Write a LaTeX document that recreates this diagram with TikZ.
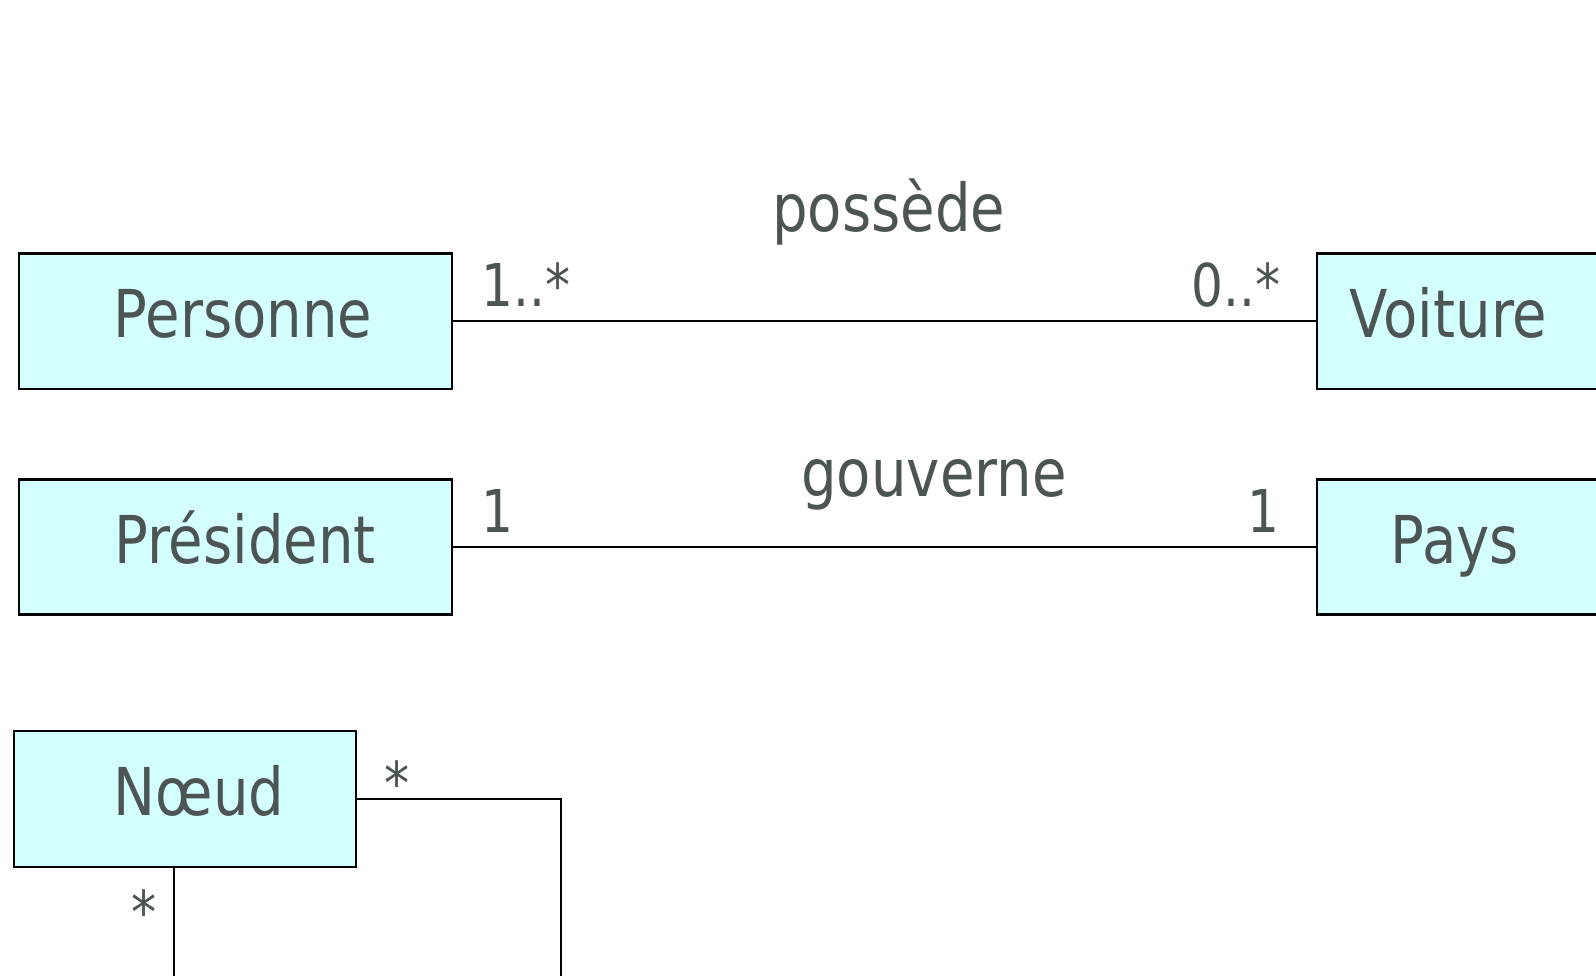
\documentclass[tikz,border=0pt]{standalone}
\usepackage{fontspec}
\setmainfont{DejaVu Sans}[FakeStretch=0.85]
\definecolor{txt}{HTML}{4D5454}
\definecolor{boxfill}{HTML}{D4FFFF}
\begin{document}
\begin{tikzpicture}[x=1pt,y=-1pt,
  classbox/.style={draw=black,fill=boxfill,line width=2.4pt,inner sep=0pt,
    minimum height=135pt,text=txt,font=\fontsize{66}{70}\selectfont,
    text height=44pt,text depth=12pt},
  conn/.style={draw=black,line width=2.2pt},
  mult/.style={text=txt,font=\fontsize{59}{62}\selectfont,inner sep=0pt},
  assoc/.style={text=txt,font=\fontsize{66}{70}\selectfont,inner sep=0pt,anchor=base}]
\useasboundingbox (0,0) rectangle (1596,976);
\clip (0,0) rectangle (1596,976);
% classes
\node[classbox,minimum width=433pt] (pers) at (235.6,321.2) {\hspace*{15pt}Personne};
\node[classbox,minimum width=284pt] (voit) at (1459,321.2) {Voiture\hspace*{21pt}};
\node[classbox,minimum width=433pt] (pres) at (235.6,547.1) {\hspace*{19pt}Président};
\node[classbox,minimum width=284pt] (pays) at (1459,547.1) {Pays\hspace*{8pt}};
\node[classbox,minimum width=342pt,minimum height=136pt] (noeud) at (185.2,799) {\hspace*{28pt}Nœud};
% associations
\draw[conn] (pers.east) -- (voit.west);
\draw[conn] (pres.east) -- (pays.west);
\coordinate (cr) at (561,990);
\coordinate (cb) at (174,990);
\draw[conn] (noeud.east) -| (cr);
\draw[conn] (cb |- noeud.south) -- (cb);
% labels
\node[assoc] (lposs) at (888.6,232) {possède};
\node[assoc] (lgouv) at (934,496) {gouverne};
\node[mult,anchor=base west] (m1) at (481.5,307) {1..*};
\node[mult,anchor=base east] (m2) at (1280.5,307) {0..*};
\node[mult,anchor=base west] (m3) at (481.5,532) {1};
\node[mult,anchor=base east] (m4) at (1279.5,532) {1};
\node[mult,anchor=base] (m5) at (397.5,804) {*};
\node[mult,anchor=base] (m6) at (144,933.5) {*};
\end{tikzpicture}
\end{document}
